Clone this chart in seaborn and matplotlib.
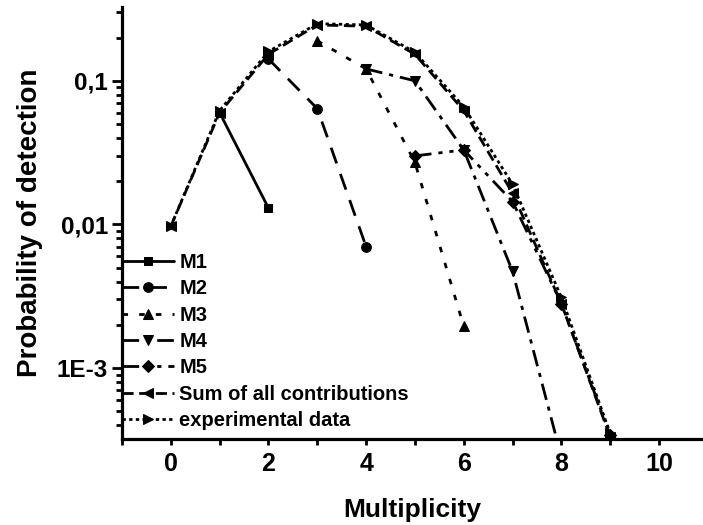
import matplotlib
matplotlib.use('Agg')
import matplotlib.pyplot as plt
import matplotlib.ticker as mticker
import seaborn as sns

sns.set_style('ticks')
plt.rcParams['font.family'] = ['Liberation Sans', 'DejaVu Sans']
plt.rcParams['font.weight'] = 'bold'
plt.rcParams['text.color'] = 'black'
plt.rcParams['axes.labelcolor'] = 'black'
plt.rcParams['axes.edgecolor'] = 'black'
plt.rcParams['xtick.color'] = 'black'
plt.rcParams['ytick.color'] = 'black'

# Data
m1_x = [1, 2]
m1_y = [0.060, 0.013]
m2_x = [2, 3, 4]
m2_y = [0.142, 0.064, 0.0070]
m3_x = [3, 4, 5, 6]
m3_y = [0.19, 0.121, 0.027, 0.00195]
m4_x = [4, 5, 6, 7, 8]
m4_y = [0.121, 0.100, 0.033, 0.0047, 0.00024]
m5_x = [5, 6, 7, 8, 9]
m5_y = [0.030, 0.033, 0.0144, 0.0028, 0.00034]
sum_x = [0, 1, 2, 3, 4, 5, 6, 7, 8, 9]
sum_y = [0.0097, 0.060, 0.153, 0.245, 0.240, 0.153, 0.062, 0.0165, 0.0028, 0.00033]
exp_x = [0, 1, 2, 3, 4, 5, 6, 7, 8, 9]
exp_y = [0.0097, 0.062, 0.160, 0.250, 0.245, 0.158, 0.066, 0.0190, 0.0031, 0.00035]

series = [
    ('M1', m1_x, m1_y, 's', '-', 6),
    ('M2', m2_x, m2_y, 'o', (0, (6, 4)), 7),
    ('M3', m3_x, m3_y, '^', (0, (2, 4)), 7),
    ('M4', m4_x, m4_y, 'v', (0, (6, 2.5, 1.5, 2.5)), 7),
    ('M5', m5_x, m5_y, 'D', (0, (6, 2.5, 1.5, 2.5, 1.5, 2.5)), 6),
    ('Sum of all contributions', sum_x, sum_y, '<', (0, (4, 2)), 7),
    ('experimental data', exp_x, exp_y, '>', (0, (1.2, 1.2)), 7),
]

fig = plt.figure(figsize=(7.03, 5.25), dpi=100)
ax = fig.add_axes([0.1735, 0.1638, 0.8265, 0.823])

for name, xs, ys, mk, ls, ms in series:
    sns.lineplot(x=xs, y=ys, ax=ax, color='black', marker=mk, linestyle=ls,
                 linewidth=2, markersize=ms, markeredgecolor='black',
                 label=name)

ax.set_yscale('log')
ax.set_xlim(-1, 10.9)
ax.set_ylim(3.2e-4, 0.327)

ax.xaxis.set_major_locator(mticker.MultipleLocator(2))
ax.xaxis.set_minor_locator(mticker.MultipleLocator(1))
ax.set_yticks([0.001, 0.01, 0.1])
ax.set_yticklabels(['1E-3', '0,01', '0,1'])
ax.yaxis.set_minor_locator(mticker.LogLocator(base=10, subs=range(2, 10)))
ax.yaxis.set_minor_formatter(mticker.NullFormatter())

ax.tick_params(axis='x', which='both', direction='out', length=4, width=2,
               labelsize=18, pad=5)
ax.tick_params(axis='y', which='major', direction='out', length=7.2, width=2,
               labelsize=17.5, pad=3)
ax.tick_params(axis='y', which='minor', direction='out', length=4.3, width=2)
for lab in ax.get_xticklabels() + ax.get_yticklabels():
    lab.set_fontweight('bold')

for side in ['top', 'right']:
    ax.spines[side].set_visible(False)
for side in ['left', 'bottom']:
    ax.spines[side].set_linewidth(2.3)

ax.set_xlabel('Multiplicity', fontsize=19, fontweight='bold', labelpad=16)
ax.set_ylabel('Probability of detection', fontsize=20, fontweight='bold', labelpad=10)

ax.legend(loc='lower left', bbox_to_anchor=(0.0, 0.02), frameon=False,
          prop={'size': 14.5, 'weight': 'bold'}, handlelength=2.6,
          handletextpad=0.25, labelspacing=0.37, borderaxespad=0, borderpad=0)

fig.savefig('out.png', dpi=100)
